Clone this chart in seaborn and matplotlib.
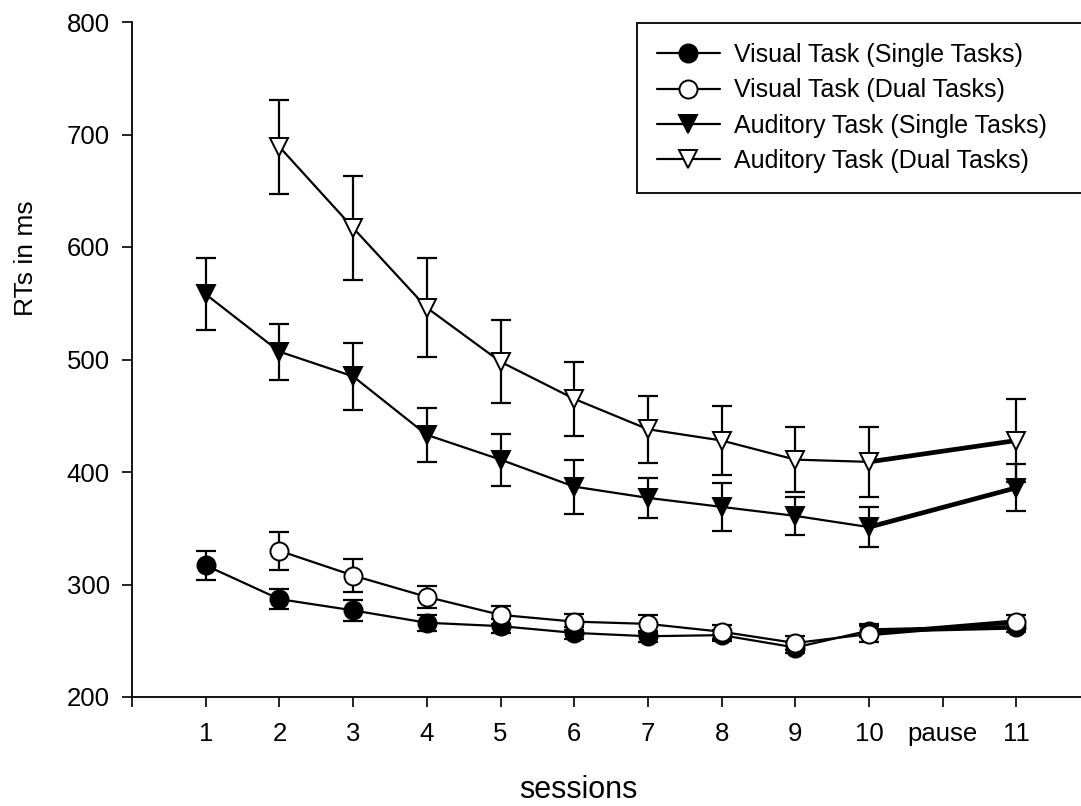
import numpy as np
import pandas as pd
import matplotlib
matplotlib.use("Agg")
import matplotlib.pyplot as plt
from matplotlib.lines import Line2D
import seaborn as sns

# ---- data ----
positions = [1, 2, 3, 4, 5, 6, 7, 8, 9, 10, 12]          # session 11 sits after the "pause"
tick_positions = list(range(0, 13))
tick_labels = ["", "1", "2", "3", "4", "5", "6", "7", "8", "9", "10", "pause", "11"]

visual_single = [317, 287, 277, 266, 263, 257, 254, 255, 244, 259, 262]
visual_single_err = [13, 9, 9, 7, 6, 5, 5, 5, 5, 6, 4]

visual_dual = [np.nan, 330, 308, 289, 273, 267, 265, 258, 248, 256, 267]
visual_dual_err = [np.nan, 17, 15, 10, 8, 7, 8, 6, 6, 7, 6]

auditory_single = [558, 507, 485, 433, 411, 387, 377, 369, 361, 351, 386]
auditory_single_err = [32, 25, 30, 24, 23, 24, 18, 21, 17, 18, 21]

auditory_dual = [np.nan, 689, 617, 546, 498, 465, 438, 428, 411, 409, 428]
auditory_dual_err = [np.nan, 42, 46, 44, 37, 33, 30, 31, 29, 31, 37]

series_names = ["Visual Task (Single Tasks)", "Visual Task (Dual Tasks)",
                "Auditory Task (Single Tasks)", "Auditory Task (Dual Tasks)"]

# ---- style ----
sns.set_theme(style="ticks")
plt.rcParams["font.family"] = ["Liberation Sans", "DejaVu Sans"]
plt.rcParams["text.color"] = "black"
plt.rcParams["axes.labelcolor"] = "black"

fig = plt.figure(figsize=(10.81, 8.06), dpi=100)
ax = fig.add_axes([132 / 1081, 1 - 697 / 806, (1081 - 132) / 1081, 675 / 806])

series = [
    (visual_single, visual_single_err, "o", "black"),
    (visual_dual, visual_dual_err, "o", "white"),
    (auditory_single, auditory_single_err, "v", "black"),
    (auditory_dual, auditory_dual_err, "v", "white"),
]

ms = 13
for i, (vals, errs, mk, fc) in enumerate(series):
    df = pd.DataFrame({"x": positions, "y": vals, "e": errs}).dropna()
    before = df[df["x"] <= 10]
    after = df[df["x"] >= 10]
    # error bars
    ax.errorbar(df["x"], df["y"], yerr=df["e"], fmt="none", ecolor="black",
                elinewidth=1.6, capsize=7.5, capthick=1.6, zorder=2)
    # thin connecting line for sessions 1-10
    sns.lineplot(data=before, x="x", y="y", ax=ax, color="black", lw=1.6,
                 errorbar=None, sort=True, zorder=3)
    # thick line across the pause
    sns.lineplot(data=after, x="x", y="y", ax=ax, color="black", lw=3.4,
                 errorbar=None, sort=True, zorder=3)
    # markers on top
    sns.lineplot(data=df, x="x", y="y", ax=ax, color="black", linestyle="",
                 marker=mk, markersize=ms, markerfacecolor=fc,
                 markeredgecolor="black", markeredgewidth=1.4,
                 errorbar=None, zorder=4 + i)

ax.set_xlim(0, (1081 - 132) / 73.7)
ax.set_ylim(200, 800)
ax.set_xticks(tick_positions)
ax.set_xticklabels(tick_labels)
ax.set_yticks([200, 300, 400, 500, 600, 700, 800])

for s in ["top", "right"]:
    ax.spines[s].set_visible(False)
for s in ["left", "bottom"]:
    ax.spines[s].set_linewidth(1.3)
    ax.spines[s].set_color("black")

ax.tick_params(axis="both", direction="out", length=7, width=1.2, colors="black",
               labelsize=18.5)
ax.tick_params(axis="x", pad=11)
ax.tick_params(axis="y", pad=9)

ax.set_xlabel("sessions", fontsize=22, color="black", va="center")
ax.xaxis.set_label_coords((578 - 132) / 949, -(790 - 697) / 675)
ax.set_ylabel("RTs in ms", fontsize=19, color="black", va="center", ha="center")
ax.yaxis.set_label_coords((26 - 132) / 949, (697 - 258) / 675)

# ---- legend ----
handles = []
for (vals, errs, mk, fc), name in zip(series, series_names):
    handles.append(Line2D([0], [0], color="black", lw=1.6, marker=mk, markersize=ms,
                          markerfacecolor=fc, markeredgecolor="black",
                          markeredgewidth=1.4, label=name))
leg = ax.legend(handles=handles, loc="upper left", mode="expand",
                bbox_to_anchor=(637 / 1081, 0, 0.5, 1 - 23 / 806),
                bbox_transform=fig.transFigure, borderaxespad=0,
                fontsize=18, frameon=True, fancybox=False, framealpha=1,
                edgecolor="black", handlelength=2.5, handletextpad=0.6,
                labelspacing=0.45, borderpad=0.8)
leg.get_frame().set_linewidth(1.3)
for t in leg.get_texts():
    t.set_color("black")
leg.set_zorder(10)

fig.savefig("out.png", dpi=100)
